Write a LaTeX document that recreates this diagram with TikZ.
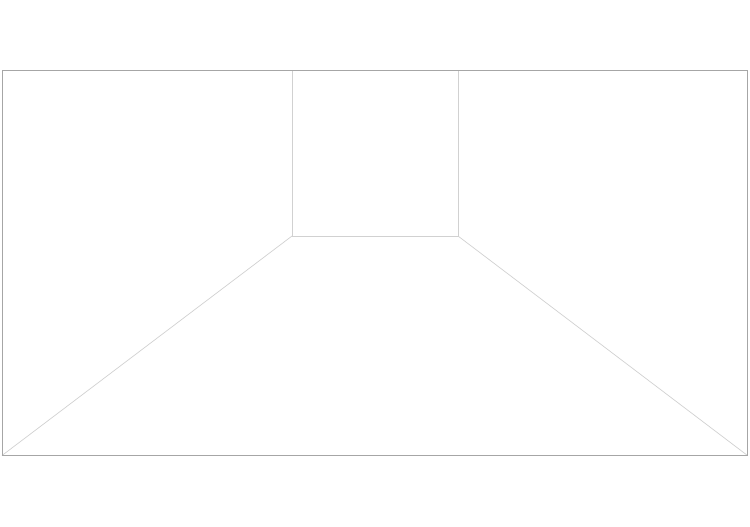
\documentclass[tikz,border=0pt]{standalone}
\usepackage{tikz}
\usetikzlibrary{positioning}
\begin{document}
\begin{tikzpicture}[x=0.02cm,y=-0.02cm]
                    \tikzstyle{wall}=[draw=black!35, line width=0.5pt]
                    \tikzstyle{edge}=[draw=black!18, line width=0.4pt]
                    \useasboundingbox (0,0) rectangle (750,527);
                    \coordinate (tl) at (2,70.5);
                    \coordinate (br) at (747.5,455.5);
                    \coordinate (bl) at (2,455.5);
                    \coordinate (backtl) at (292,70.5);
                    \coordinate (backtr) at (458,70.5);
                    \coordinate (backbl) at (292,236);
                    \coordinate (backbr) at (458,236);
                    \draw [edge] (backtl) -- (backbl) -- (backbr) -- (backtr);
                    \draw [edge] (backbl) -- (bl);
                    \draw [edge] (backbr) -- (br);
                    \draw [wall] (tl) rectangle (br);
                \end{tikzpicture}
\end{document}
